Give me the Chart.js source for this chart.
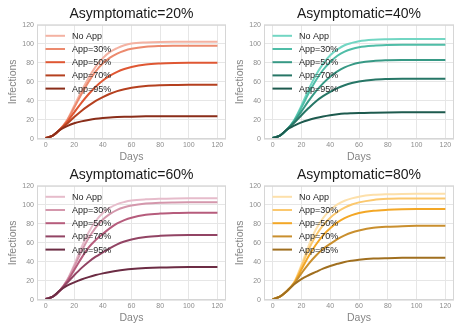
<!DOCTYPE html>
<html>
<head>
<meta charset="utf-8">
<script src="https://cdn.jsdelivr.net/npm/chart.js@4.4.1/dist/chart.umd.min.js"></script>
<style>
  body { margin: 0; background: #fff; }
  #wrap { position: relative; width: 463px; height: 331px; overflow: hidden; }
  .panel { position: absolute; }
</style>
</head>
<body>
<div id="wrap">
  <div class="panel" style="left:0;top:0;width:231px;height:165px"><canvas id="c20"></canvas></div>
  <div class="panel" style="left:231px;top:0;width:232px;height:165px"><canvas id="c40"></canvas></div>
  <div class="panel" style="left:0;top:161px;width:231px;height:165px"><canvas id="c60"></canvas></div>
  <div class="panel" style="left:231px;top:161px;width:232px;height:165px"><canvas id="c80"></canvas></div>
</div>
<script>
// data
const seriesLabels = ['No App', 'App=30%', 'App=50%', 'App=70%', 'App=95%'];
const days = [0, 5, 10, 15, 20, 25, 30, 35, 40, 45, 50, 55, 60, 70, 80, 90, 100, 110, 120];
const xTicks = [0, 20, 40, 60, 80, 100, 120];
const yTicks = [0, 20, 40, 60, 80, 100, 120];

// Asymptomatic=20%
const a20NoApp = [1, 3.5, 10, 20, 35, 50, 64, 76, 85, 91.5, 95.5, 98.5, 100.3, 101.5, 102, 102.1, 102.1, 102.1, 102.1];
const a20App30 = [1, 3.5, 10, 19.5, 33, 47, 60, 71, 79.5, 85.5, 89.8, 92.8, 94.8, 96.9, 97.7, 98, 98.1, 98.1, 98.1];
const a20App50 = [1, 3.5, 10, 18, 28, 38, 47, 55, 61.5, 66.5, 70.5, 73.5, 75.6, 78.2, 79.3, 79.8, 80, 80, 80];
const a20App70 = [1, 3.5, 10, 16, 23, 29.5, 35, 40, 44, 47.5, 50.3, 52.3, 53.8, 55.7, 56.5, 56.8, 57, 57, 57];
const a20App95 = [1, 3.5, 9.5, 13.5, 16.5, 18.5, 20, 21.2, 22, 22.6, 23, 23.3, 23.5, 23.8, 24, 24, 24, 24, 24];

// Asymptomatic=40%
const a40NoApp = [1, 3.5, 10, 20, 35, 52, 67, 79, 88, 94, 98.5, 101, 102.8, 104.3, 104.8, 105, 105, 105, 105];
const a40App30 = [1, 3.5, 10, 19.5, 33, 48, 61.5, 72.5, 81, 87.5, 91.8, 94.6, 96.4, 98, 98.7, 99, 99, 99, 99];
const a40App50 = [1, 3.5, 10, 18.5, 29, 40, 50, 58.5, 65.5, 71, 75.3, 78.2, 80.1, 82, 82.7, 83, 83, 83, 83];
const a40App70 = [1, 3.5, 10, 17, 25, 32.5, 39.5, 45, 49.5, 53.5, 56.5, 58.8, 60.4, 62.3, 63, 63.3, 63.3, 63.3, 63.3];
const a40App95 = [1, 3.5, 10, 14, 17.5, 20, 22, 23.7, 25, 26, 26.7, 27.1, 27.4, 27.7, 27.9, 28, 28, 28, 28];

// Asymptomatic=60%
const a60NoApp = [1, 3.5, 10, 21, 37, 55, 71, 83, 91.5, 97, 100.8, 103, 104.5, 105.8, 106.4, 106.7, 106.8, 106.8, 106.8];
const a60App30 = [1, 3.5, 10, 20.5, 35, 51, 65, 76, 84.5, 90.5, 94.8, 97.5, 99.3, 101.3, 102.2, 102.5, 102.6, 102.6, 102.6];
const a60App50 = [1, 3.5, 10, 19.5, 31.5, 44, 55, 63, 69.5, 75.5, 80.5, 84, 86.5, 89.5, 90.8, 91.4, 91.7, 91.7, 91.7];
const a60App70 = [1, 3.5, 10, 18, 26, 33.5, 40, 45.5, 50, 54.5, 58.5, 61.5, 63.6, 66.2, 67.4, 68, 68.2, 68.2, 68.2];
const a60App95 = [1, 3.5, 10, 15, 18.5, 21.5, 24, 26.2, 28, 29.5, 30.8, 31.8, 32.6, 33.6, 34.2, 34.5, 34.6, 34.6, 34.6];

// Asymptomatic=80%
const a80NoApp = [1, 3.5, 9.5, 19, 37, 57, 74, 86, 94.5, 100.5, 104.3, 106.8, 108.6, 110.5, 111.2, 111.5, 111.6, 111.6, 111.6];
const a80App30 = [1, 3.5, 9.5, 18.5, 35, 53, 67.5, 78.5, 86.5, 92.5, 97, 100.3, 102.6, 105.2, 106.3, 106.6, 106.7, 106.7, 106.7];
const a80App50 = [1, 3.5, 9.5, 18, 32, 46, 58, 68, 75.5, 81.5, 86, 89.2, 91.4, 93.8, 94.8, 95.3, 95.5, 95.5, 95.5];
const a80App70 = [1, 3.5, 9.5, 17.5, 28, 38, 46.5, 53.5, 59, 64, 68, 71, 73, 75.8, 77, 77.6, 77.9, 78, 78];
const a80App95 = [1, 3.5, 9.5, 16.5, 22, 26, 29.5, 33, 35.7, 38, 40, 41.3, 42.3, 43.5, 44, 44.3, 44.4, 44.4, 44.4];

const panels = [
  { id: 'c20', title: 'Asymptomatic=20%', yWidth: 37, padRight: 5,
    series: [a20NoApp, a20App30, a20App50, a20App70, a20App95],
    colors: ['#f4b2a2', '#ec8a6e', '#df5733', '#b5401f', '#8a2d19'] },
  { id: 'c40', title: 'Asymptomatic=40%', yWidth: 33, padRight: 9,
    series: [a40NoApp, a40App30, a40App50, a40App70, a40App95],
    colors: ['#72d6c3', '#4fbda7', '#379985', '#267666', '#1d5a4e'] },
  { id: 'c60', title: 'Asymptomatic=60%', yWidth: 37, padRight: 5,
    series: [a60NoApp, a60App30, a60App50, a60App70, a60App95],
    colors: ['#e6bccb', '#d497ac', '#b65c7c', '#924464', '#6c2c44'] },
  { id: 'c80', title: 'Asymptomatic=80%', yWidth: 33, padRight: 9,
    series: [a80NoApp, a80App30, a80App50, a80App70, a80App95],
    colors: ['#fde0aa', '#fbc86e', '#f3a726', '#c98f2e', '#a06f1f'] }
];

const FONT = "'Liberation Sans', Arial, sans-serif";

// frame around the plot area + legend inside it
const framePlugin = {
  id: 'frameAndLegend',
  afterDatasetsDraw(chart) {
    const { ctx, chartArea: a } = chart;
    ctx.save();
    ctx.strokeStyle = '#d6d6d6';
    ctx.lineWidth = 1;
    ctx.strokeRect(a.left + 0.5, a.top + 0.5, a.right - a.left - 1, a.bottom - a.top - 1);
    ctx.font = '9px ' + FONT;
    ctx.textBaseline = 'middle';
    chart.data.datasets.forEach((ds, i) => {
      const y = a.top + 11 + i * 13.2;
      ctx.strokeStyle = ds.borderColor;
      ctx.lineWidth = 2;
      ctx.beginPath();
      ctx.moveTo(a.left + 8.5, y);
      ctx.lineTo(a.left + 28, y);
      ctx.stroke();
      ctx.fillStyle = '#262626';
      ctx.fillText(ds.label, a.left + 35, y + 0.5);
    });
    ctx.restore();
  }
};

panels.forEach(p => {
  const el = document.getElementById(p.id);
  const w = el.parentElement.clientWidth, h = el.parentElement.clientHeight;
  el.width = w; el.height = h;
  new Chart(el, {
    type: 'line',
    data: {
      datasets: p.series.map((vals, i) => ({
        label: seriesLabels[i],
        data: days.map((d, j) => ({ x: d, y: vals[j] })),
        borderColor: p.colors[i],
        backgroundColor: p.colors[i],
        borderWidth: 2,
        pointRadius: 0,
        cubicInterpolationMode: 'monotone',
        order: 5 - i
      }))
    },
    options: {
      responsive: false,
      animation: false,
      layout: { padding: { left: 0, right: p.padRight, top: 0, bottom: 0 } },
      plugins: {
        legend: { display: false },
        tooltip: { enabled: false },
        title: {
          display: true,
          text: p.title,
          fullSize: false,
          color: '#1a1a1a',
          font: { family: FONT, size: 14, weight: 'normal' },
          padding: { top: 6, bottom: 2 }
        }
      },
      scales: {
        x: {
          type: 'linear',
          min: -6,
          max: 126,
          afterBuildTicks: s => { s.ticks = xTicks.map(v => ({ value: v })); },
          afterFit: s => { s.height = 26; },
          grid: { color: '#e6e6e6', drawTicks: false },
          border: { display: false },
          ticks: { color: '#8c8c8c', padding: 2, maxRotation: 0, font: { family: FONT, size: 7 } },
          title: { display: true, text: 'Days', color: '#858585', padding: { top: 0, bottom: 1.7 },
                   font: { family: FONT, size: 10.5 } }
        },
        y: {
          min: 0,
          max: 120,
          afterBuildTicks: s => { s.ticks = yTicks.map(v => ({ value: v })); },
          afterFit: s => { s.width = p.yWidth; },
          grid: { color: '#e6e6e6', drawTicks: false },
          border: { display: false },
          ticks: { color: '#8c8c8c', padding: 3, font: { family: FONT, size: 7 } },
          title: { display: true, text: 'Infections', color: '#858585',
                   padding: { top: p.yWidth === 37 ? 6.4 : 3, bottom: 0 },
                   font: { family: FONT, size: 10.5 } }
        }
      }
    },
    plugins: [framePlugin]
  });
});
</script>
</body>
</html>
